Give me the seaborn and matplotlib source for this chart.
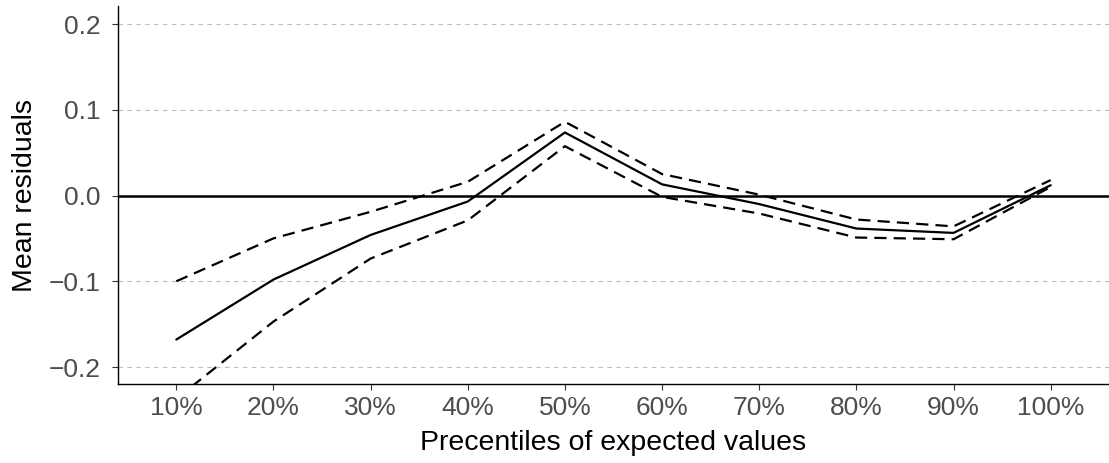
import numpy as np
import pandas as pd
import matplotlib
matplotlib.use("Agg")
import matplotlib.pyplot as plt
import seaborn as sns

categories = ["10%", "20%", "30%", "40%", "50%", "60%", "70%", "80%", "90%", "100%"]
mean_resid = [-0.168, -0.098, -0.046, -0.007, 0.0735, 0.013, -0.010, -0.0385, -0.0436, 0.012]
upper_ci = [-0.100, -0.050, -0.019, 0.016, 0.086, 0.025, 0.001, -0.028, -0.036, 0.018]
lower_ci = [-0.237, -0.147, -0.0735, -0.029, 0.0575, -0.0016, -0.021, -0.049, -0.051, 0.010]
y_ticks = [-0.2, -0.1, 0.0, 0.1, 0.2]
y_labels = ["\u22120.2", "\u22120.1", "0.0", "0.1", "0.2"]

sns.set_theme(style="white")
plt.rcParams["font.family"] = ["Liberation Sans", "DejaVu Sans"]

x = np.arange(len(categories))
df = pd.DataFrame({
    "x": np.concatenate([x, x, x]),
    "value": mean_resid + upper_ci + lower_ci,
    "series": ["mean"] * 10 + ["upper"] * 10 + ["lower"] * 10,
})

fig = plt.figure(figsize=(11.09, 4.63), dpi=100)
ax = fig.add_axes([118 / 1109, 1 - 384 / 463, 1 - 118 / 1109, (384 - 6) / 463])

for yt in y_ticks:
    ax.axhline(yt, color="#BEBEBE", lw=0.8, ls=(0, (4, 4)), zorder=0)
ax.axhline(0, color="black", lw=1.8, zorder=1)

sns.lineplot(data=df[df.series == "mean"], x="x", y="value", color="black", lw=1.6, ax=ax, zorder=3)
for s in ["upper", "lower"]:
    sns.lineplot(data=df[df.series == s], x="x", y="value", color="black", lw=1.6, ax=ax,
                 zorder=3, dashes=False, linestyle=(0, (5.5, 3.2)))

ax.set_xlim(-0.6, 9.6)
ax.set_ylim(-0.2198, 0.221)
ax.set_xticks(x)
ax.set_xticklabels(categories)
ax.set_yticks(y_ticks)
ax.set_yticklabels(y_labels)
ax.tick_params(axis="both", which="both", length=4.5, width=0.8, color="#333333",
               labelsize=19, labelcolor="#4D4D4D", direction="out", pad=4,
               left=True, bottom=True)
ax.tick_params(axis="y", pad=8)
for side in ["top", "right"]:
    ax.spines[side].set_visible(False)
for side in ["left", "bottom"]:
    ax.spines[side].set_color("black")
    ax.spines[side].set_linewidth(1.0)
ax.set_xlabel("Precentiles of expected values", fontsize=20.5, color="black", labelpad=7)
ax.set_ylabel("Mean residuals", fontsize=20.5, color="black", labelpad=8)
if ax.get_legend() is not None:
    ax.get_legend().remove()

fig.savefig("out.png", dpi=100)
